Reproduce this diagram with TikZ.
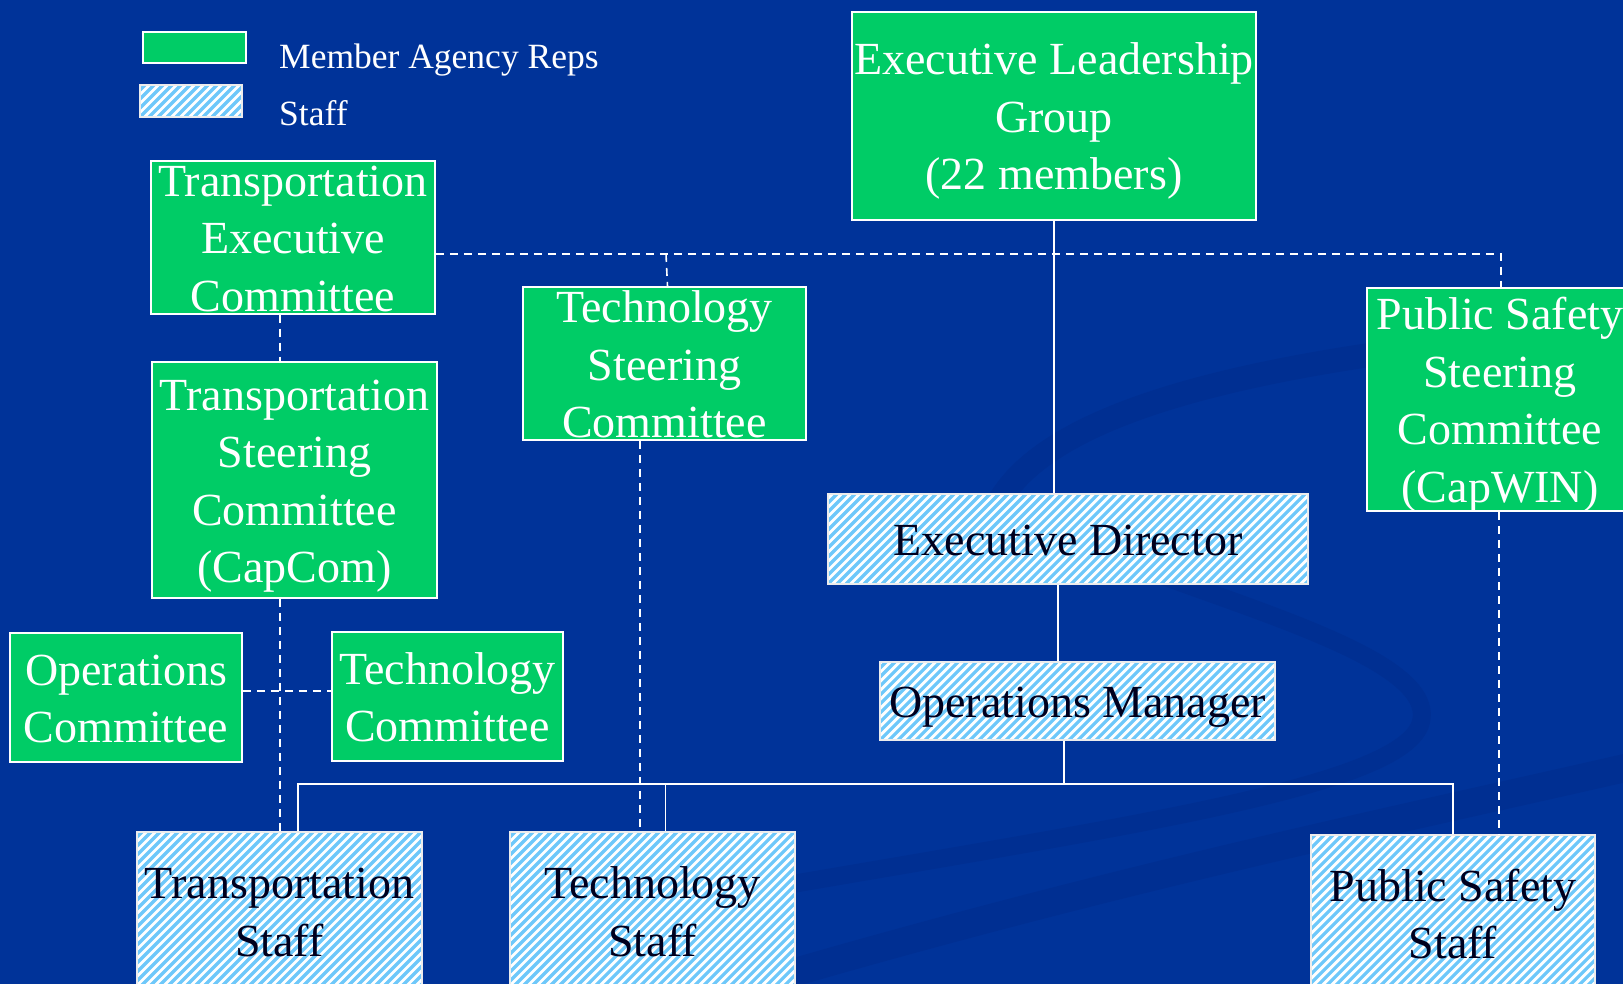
\documentclass[tikz,border=0pt]{standalone}
\usepackage{fontspec}
\setmainfont{Liberation Serif}
\usetikzlibrary{calc}
\definecolor{bgblue}{RGB}{0,51,153}
\definecolor{swoosh}{RGB}{0,47,146}
\definecolor{agreen}{RGB}{0,204,102}
\definecolor{stripe}{RGB}{110,200,250}
\definecolor{darktext}{RGB}{0,0,30}
\begin{document}
\begin{tikzpicture}[x=1pt,y=-1pt,
  gbox/.style={draw=white, line width=1.5pt, fill=agreen, inner sep=0pt},
  sbox/.style={draw=white!85!gray, line width=1.2pt, inner sep=0pt, fill=white,
    path picture={\foreach \k in {-40,...,80}{\draw[stripe, line width=3.2pt]
      ($(path picture bounding box.south west)+(\k*9,0)$) -- ++(400,-400);}}},
  gtext/.style={text=white, align=center, inner sep=0pt, yshift=-5pt, font=\fontsize{46}{57.5}\selectfont},
  stext/.style={text=darktext, align=center, inner sep=0pt, yshift=-5pt, font=\fontsize{46}{57.5}\selectfont},
  legtext/.style={text=white, inner sep=0pt, anchor=base west, font=\fontsize{35.5}{42}\selectfont},
  solidline/.style={draw=white, line width=1.6pt},
  dashline/.style={draw=white, line width=1.6pt, dash pattern=on 8pt off 6pt},
  swooshline/.style={draw=swoosh, line cap=round},
]
\useasboundingbox (0,0) rectangle (1623,984);
\clip (0,0) rectangle (1623,984);
\fill[bgblue] (0,0) rectangle (1623,984);

% background swooshes (faint)
\draw[swooshline, line width=24pt] (1000,500) .. controls (1060,400) and (1300,350) .. (1660,325);
\draw[swooshline, line width=18pt] (1000,500) .. controls (1100,580) and (1450,640) .. (1420,725)
   .. controls (1395,790) and (1100,830) .. (700,900);
\draw[swooshline, line width=28pt] (700,1000) .. controls (1100,880) and (1400,820) .. (1660,760);

% legend
\node[gbox, minimum width=103pt, minimum height=31pt] (leggreen) at (194.5,47.5) {};
\node[sbox, minimum width=102pt, minimum height=32pt] (legstaff) at (191,101) {};
\node[legtext] (leggreent) at (279,69) {Member Agency Reps};
\node[legtext] (legstafft) at (279,126) {Staff};

% green boxes
\node[gbox, minimum width=404pt, minimum height=208pt] (elg) at (1054,116) {};
\node[gtext] (elgt) at (elg) {\strut Executive Leadership\\\strut Group\\\strut (22 members)};
\node[gbox, minimum width=284pt, minimum height=153pt] (tec) at (293,237.5) {};
\node[gtext] (tect) at (tec) {\strut Transportation\\\strut Executive\\\strut Committee};
\node[gbox, minimum width=285pt, minimum height=236pt] (tsc) at (294.5,480) {};
\node[gtext] (tsct) at (tsc) {\strut Transportation\\\strut Steering\\\strut Committee\\\strut (CapCom)};
\node[gbox, minimum width=283pt, minimum height=153pt] (techsc) at (664.5,363.5) {};
\node[gtext] (techsct) at (techsc) {\strut Technology\\\strut Steering\\\strut Committee};
\node[gbox, minimum width=266pt, minimum height=223pt] (pssc) at (1500,399.5) {};
\node[gtext] (pssct) at (pssc) {\strut Public Safety\\\strut Steering\\\strut Committee\\\strut (CapWIN)};
\node[gbox, minimum width=232pt, minimum height=129pt] (opsc) at (126,697.5) {};
\node[gtext] (opsct) at (opsc) {\strut Operations\\\strut Committee};
\node[gbox, minimum width=231pt, minimum height=129pt] (techc) at (447.5,696.5) {};
\node[gtext] (techct) at (techc) {\strut Technology\\\strut Committee};

% staff boxes
\node[sbox, minimum width=480pt, minimum height=90pt] (ed) at (1068,539) {};
\node[stext] (edt) at (ed) {\strut Executive Director};
\node[sbox, minimum width=395pt, minimum height=78pt] (om) at (1077.5,701) {};
\node[stext] (omt) at (om) {\strut Operations Manager};
\node[sbox, minimum width=285pt, minimum height=158pt] (ts) at (279.5,911) {};
\node[stext] (tst) at (ts) {\strut Transportation\\\strut Staff};
\node[sbox, minimum width=285pt, minimum height=158pt] (techs) at (652.5,911) {};
\node[stext] (techst) at (techs) {\strut Technology\\\strut Staff};
\node[sbox, minimum width=284pt, minimum height=157pt] (pss) at (1453,913.5) {};
\node[stext] (psst) at (pss) {\strut Public Safety\\\strut Staff};

% solid connectors
\coordinate (busL) at (298,784);
\coordinate (busT) at (665.5,784);
\coordinate (busM) at (1064,784);
\coordinate (busR) at (1453,784);
\draw[solidline] (elg.south) -- (elg.south |- ed.north);
\draw[solidline] ($(ed.south)+(-10,0)$) -- ($(om.north)+(-19.5,0)$);
\draw[solidline] (busM |- om.south) -- (busM);
\draw[solidline] (busL |- ts.north) -- (busL) -- (busR) -- (busR |- pss.north);
\draw[solidline] (busT) -- (busT |- techs.north);

% dashed connectors
\coordinate (dR) at (1501,254);
\coordinate (stub) at (666,254);
\coordinate (vT) at (280,600);
\coordinate (vTech) at (640,600);
\coordinate (vPS) at (1499,600);
\coordinate (hOps) at (300,691);
\draw[dashline] (tec.east |- dR) -- (dR) -- (dR |- pssc.north);
\draw[dashline] (stub) -- ($(techsc.north)+(3,0)$);
\draw[dashline] (vT |- tec.south) -- (vT |- tsc.north);
\draw[dashline] (vT |- tsc.south) -- (vT |- ts.north);
\draw[dashline] (vTech |- techsc.south) -- (vTech |- techs.north);
\draw[dashline] (vPS |- pssc.south) -- (vPS |- pss.north);
\draw[dashline] (opsc.east |- hOps) -- (techc.west |- hOps);
\end{tikzpicture}
\end{document}
